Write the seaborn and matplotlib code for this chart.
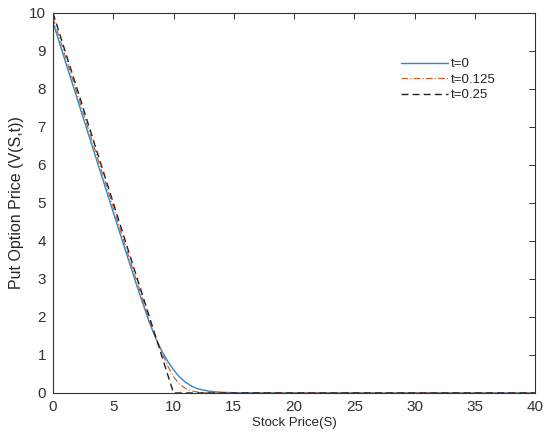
import matplotlib
matplotlib.use("Agg")
import matplotlib.pyplot as plt
import seaborn as sns
import pandas as pd

# Data
S_t0 = [0, 2, 4, 6, 7, 8, 8.5, 9, 9.5, 10, 10.5, 11, 11.5, 12, 12.5, 13, 13.5, 14, 15, 20, 40]
V_t0 = [9.75, 7.75, 5.75, 3.76, 2.78, 1.85, 1.46, 1.12, 0.84, 0.61, 0.42, 0.28, 0.18, 0.11,
        0.075, 0.045, 0.03, 0.018, 0.006, 0.0, 0.0]

S_t125 = [0, 2, 4, 6, 7, 8, 8.5, 9, 9.5, 10, 10.5, 11, 11.5, 12, 12.5, 13, 14, 40]
V_t125 = [9.88, 7.88, 5.88, 3.88, 2.89, 1.92, 1.46, 1.08, 0.72, 0.43, 0.23, 0.12, 0.055,
          0.025, 0.01, 0.004, 0.0, 0.0]

S_t25 = [0, 10, 40]
V_t25 = [10, 0, 0]

labels = ["t=0", "t=0.125", "t=0.25"]
x_ticks = [0, 5, 10, 15, 20, 25, 30, 35, 40]
y_ticks = [0, 1, 2, 3, 4, 5, 6, 7, 8, 9, 10]

sns.set_style("white")
plt.rcParams['font.family'] = ['Liberation Sans', 'DejaVu Sans']

fig = plt.figure(figsize=(5.5, 4.42), dpi=100)
ax = fig.add_axes([0.0964, 0.1109, 0.8764, 0.8597])

df0 = pd.DataFrame({"S": S_t0, "V": V_t0})
df1 = pd.DataFrame({"S": S_t125, "V": V_t125})
df2 = pd.DataFrame({"S": S_t25, "V": V_t25})

sns.lineplot(data=df0, x="S", y="V", ax=ax, color="#2F86C6", lw=1.0, label=labels[0])
sns.lineplot(data=df1, x="S", y="V", ax=ax, color="#D95319", lw=0.8, label=labels[1],
             linestyle=(0, (6, 2, 1, 2)))
sns.lineplot(data=df2, x="S", y="V", ax=ax, color="#222222", lw=1.0, label=labels[2],
             linestyle=(0, (5, 3)))

ax.set_xlim(0, 40)
ax.set_ylim(0, 10)
ax.set_xticks(x_ticks)
ax.set_yticks(y_ticks)
ax.tick_params(direction="in", top=True, right=True, length=4, width=0.7,
               labelsize=11, colors="#333333", pad=5)
for sp in ax.spines.values():
    sp.set_visible(True)
    sp.set_color("#333333")
    sp.set_linewidth(0.8)

ax.set_xlabel("Stock Price(S)", fontsize=9.5, color="#262626", labelpad=2)
ax.set_ylabel("Put Option Price (V(S,t))", fontsize=11.5, color="#262626", labelpad=4)

leg = ax.legend(loc="upper left", bbox_to_anchor=(0.71, 0.895), frameon=False,
                fontsize=9.5, handlelength=3.6, handletextpad=0.2, labelspacing=0.25,
                borderaxespad=0)

fig.savefig("out.png", dpi=100)
